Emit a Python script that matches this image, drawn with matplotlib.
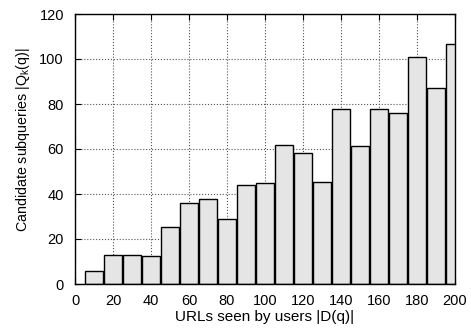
import numpy as np
import matplotlib
matplotlib.use("Agg")
import matplotlib.pyplot as plt

plt.rcParams['font.family'] = ['Liberation Sans', 'DejaVu Sans']
plt.rcParams['mathtext.fontset'] = 'custom'
plt.rcParams['mathtext.rm'] = 'Liberation Sans'
plt.rcParams['mathtext.it'] = 'Liberation Sans'

# data
urls_seen = np.arange(10, 201, 10)
subqueries = [6, 13, 13, 12.3, 25.5, 36, 37.7, 28.8, 43.9, 44.8,
              62, 58.4, 45.5, 77.8, 61.3, 78, 76.1, 100.7, 87, 106.6]
x_ticks = np.arange(0, 201, 20)
y_ticks = np.arange(0, 121, 20)

fig = plt.figure(figsize=(4.71, 3.31), dpi=100)
ax = fig.add_axes([75 / 471, 47 / 331, 380 / 471, 270 / 331])

ax.bar(urls_seen, subqueries, width=9.2, color='#e5e5e5', edgecolor='black',
       linewidth=1.0, zorder=3)

ax.set_xlim(0, 200)
ax.set_ylim(0, 120)
ax.set_xticks(x_ticks)
ax.set_yticks(y_ticks)
ax.grid(True, linestyle=':', color='#555555', linewidth=0.8, zorder=0)
ax.tick_params(direction='in', top=True, right=True, length=4, labelsize=10.5)
ax.tick_params(axis='x', pad=7)
ax.tick_params(axis='y', pad=8)
for s in ax.spines.values():
    s.set_linewidth(1.0)
    s.set_zorder(4)

ax.set_xlabel("URLs seen by users |D(q)|", fontsize=11, labelpad=2)
ax.set_ylabel("Candidate subqueries |Q$_\\mathregular{k}$(q)|", fontsize=10.3)
ax.yaxis.set_label_coords(-0.114, 0.533)

fig.savefig("out.png", dpi=100)
